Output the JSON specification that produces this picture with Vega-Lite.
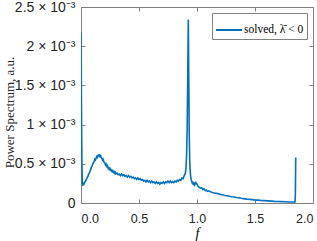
{
  "$schema": "https://vega.github.io/schema/vega-lite/v6.json",
  "width": 232,
  "height": 196,
  "autosize": {"type": "none"},
  "padding": {"left": 81, "top": 7, "right": 4, "bottom": 38},
  "background": "white",
  "config": {
    "view": {"stroke": null},
    "axis": {
      "grid": false,
      "domainColor": "#808080",
      "domainWidth": 1,
      "tickColor": "#808080",
      "tickSize": -4,
      "labelFont": "Liberation Sans",
      "labelFontSize": 12.5,
      "labelColor": "#262626",
      "labelFontWeight": "normal"
    },
    "legend": {
      "orient": "top-right",
      "offset": 6,
      "symbolType": "stroke",
      "symbolSize": 676,
      "symbolStrokeWidth": 2,
      "labelFont": "Liberation Serif",
      "labelFontSize": 11.5,
      "labelColor": "#000000",
      "labelOffset": 1,
      "strokeColor": "#808080",
      "fillColor": "white",
      "padding": 3,
      "titlePadding": 0
    }
  },
  "data": {
    "values": [
      {"f": 0.000, "power": 2.17e-3},
      {"f": 0.002, "power": 1.80e-3},
      {"f": 0.004, "power": 1.20e-3},
      {"f": 0.006, "power": 0.80e-3},
      {"f": 0.008, "power": 0.50e-3},
      {"f": 0.010, "power": 0.33e-3},
      {"f": 0.013, "power": 0.22e-3},
      {"f": 0.016, "power": 0.23e-3},
      {"f": 0.020, "power": 0.25e-3},
      {"f": 0.025, "power": 0.24e-3},
      {"f": 0.030, "power": 0.26e-3},
      {"f": 0.035, "power": 0.27e-3},
      {"f": 0.040, "power": 0.28e-3},
      {"f": 0.045, "power": 0.30e-3},
      {"f": 0.050, "power": 0.31e-3},
      {"f": 0.055, "power": 0.33e-3},
      {"f": 0.060, "power": 0.34e-3},
      {"f": 0.065, "power": 0.37e-3},
      {"f": 0.070, "power": 0.38e-3},
      {"f": 0.075, "power": 0.39e-3},
      {"f": 0.080, "power": 0.42e-3},
      {"f": 0.085, "power": 0.43e-3},
      {"f": 0.090, "power": 0.46e-3},
      {"f": 0.095, "power": 0.47e-3},
      {"f": 0.100, "power": 0.49e-3},
      {"f": 0.105, "power": 0.51e-3},
      {"f": 0.110, "power": 0.52e-3},
      {"f": 0.115, "power": 0.54e-3},
      {"f": 0.120, "power": 0.56e-3},
      {"f": 0.125, "power": 0.55e-3},
      {"f": 0.130, "power": 0.57e-3},
      {"f": 0.135, "power": 0.59e-3},
      {"f": 0.140, "power": 0.58e-3},
      {"f": 0.145, "power": 0.60e-3},
      {"f": 0.150, "power": 0.61e-3},
      {"f": 0.155, "power": 0.60e-3},
      {"f": 0.160, "power": 0.61e-3},
      {"f": 0.165, "power": 0.59e-3},
      {"f": 0.170, "power": 0.60e-3},
      {"f": 0.175, "power": 0.58e-3},
      {"f": 0.180, "power": 0.57e-3},
      {"f": 0.185, "power": 0.55e-3},
      {"f": 0.190, "power": 0.56e-3},
      {"f": 0.195, "power": 0.53e-3},
      {"f": 0.200, "power": 0.52e-3},
      {"f": 0.205, "power": 0.51e-3},
      {"f": 0.210, "power": 0.49e-3},
      {"f": 0.215, "power": 0.50e-3},
      {"f": 0.220, "power": 0.47e-3},
      {"f": 0.225, "power": 0.48e-3},
      {"f": 0.230, "power": 0.46e-3},
      {"f": 0.235, "power": 0.44e-3},
      {"f": 0.240, "power": 0.45e-3},
      {"f": 0.245, "power": 0.43e-3},
      {"f": 0.250, "power": 0.44e-3},
      {"f": 0.255, "power": 0.42e-3},
      {"f": 0.260, "power": 0.41e-3},
      {"f": 0.265, "power": 0.42e-3},
      {"f": 0.270, "power": 0.40e-3},
      {"f": 0.275, "power": 0.41e-3},
      {"f": 0.280, "power": 0.39e-3},
      {"f": 0.285, "power": 0.40e-3},
      {"f": 0.290, "power": 0.38e-3},
      {"f": 0.295, "power": 0.39e-3},
      {"f": 0.300, "power": 0.37e-3},
      {"f": 0.310, "power": 0.38e-3},
      {"f": 0.320, "power": 0.36e-3},
      {"f": 0.330, "power": 0.37e-3},
      {"f": 0.340, "power": 0.35e-3},
      {"f": 0.350, "power": 0.37e-3},
      {"f": 0.360, "power": 0.35e-3},
      {"f": 0.370, "power": 0.36e-3},
      {"f": 0.380, "power": 0.34e-3},
      {"f": 0.390, "power": 0.35e-3},
      {"f": 0.400, "power": 0.33e-3},
      {"f": 0.410, "power": 0.35e-3},
      {"f": 0.420, "power": 0.33e-3},
      {"f": 0.430, "power": 0.34e-3},
      {"f": 0.440, "power": 0.32e-3},
      {"f": 0.450, "power": 0.33e-3},
      {"f": 0.460, "power": 0.31e-3},
      {"f": 0.470, "power": 0.32e-3},
      {"f": 0.480, "power": 0.30e-3},
      {"f": 0.490, "power": 0.32e-3},
      {"f": 0.500, "power": 0.30e-3},
      {"f": 0.510, "power": 0.31e-3},
      {"f": 0.520, "power": 0.29e-3},
      {"f": 0.530, "power": 0.30e-3},
      {"f": 0.540, "power": 0.28e-3},
      {"f": 0.550, "power": 0.29e-3},
      {"f": 0.560, "power": 0.27e-3},
      {"f": 0.570, "power": 0.29e-3},
      {"f": 0.580, "power": 0.27e-3},
      {"f": 0.590, "power": 0.28e-3},
      {"f": 0.600, "power": 0.26e-3},
      {"f": 0.610, "power": 0.28e-3},
      {"f": 0.620, "power": 0.26e-3},
      {"f": 0.630, "power": 0.27e-3},
      {"f": 0.640, "power": 0.25e-3},
      {"f": 0.650, "power": 0.27e-3},
      {"f": 0.660, "power": 0.25e-3},
      {"f": 0.670, "power": 0.26e-3},
      {"f": 0.680, "power": 0.24e-3},
      {"f": 0.690, "power": 0.26e-3},
      {"f": 0.700, "power": 0.25e-3},
      {"f": 0.710, "power": 0.27e-3},
      {"f": 0.720, "power": 0.25e-3},
      {"f": 0.730, "power": 0.27e-3},
      {"f": 0.740, "power": 0.26e-3},
      {"f": 0.750, "power": 0.28e-3},
      {"f": 0.760, "power": 0.26e-3},
      {"f": 0.770, "power": 0.28e-3},
      {"f": 0.780, "power": 0.26e-3},
      {"f": 0.790, "power": 0.27e-3},
      {"f": 0.800, "power": 0.26e-3},
      {"f": 0.810, "power": 0.28e-3},
      {"f": 0.820, "power": 0.27e-3},
      {"f": 0.830, "power": 0.29e-3},
      {"f": 0.840, "power": 0.28e-3},
      {"f": 0.850, "power": 0.30e-3},
      {"f": 0.860, "power": 0.29e-3},
      {"f": 0.870, "power": 0.32e-3},
      {"f": 0.880, "power": 0.31e-3},
      {"f": 0.890, "power": 0.35e-3},
      {"f": 0.900, "power": 0.38e-3},
      {"f": 0.905, "power": 0.45e-3},
      {"f": 0.910, "power": 0.60e-3},
      {"f": 0.915, "power": 0.95e-3},
      {"f": 0.920, "power": 1.60e-3},
      {"f": 0.925, "power": 2.34e-3},
      {"f": 0.929, "power": 1.60e-3},
      {"f": 0.933, "power": 0.90e-3},
      {"f": 0.937, "power": 0.55e-3},
      {"f": 0.941, "power": 0.42e-3},
      {"f": 0.945, "power": 0.34e-3},
      {"f": 0.950, "power": 0.30e-3},
      {"f": 0.955, "power": 0.27e-3},
      {"f": 0.960, "power": 0.25e-3},
      {"f": 0.965, "power": 0.26e-3},
      {"f": 0.970, "power": 0.24e-3},
      {"f": 0.975, "power": 0.25e-3},
      {"f": 0.980, "power": 0.23e-3},
      {"f": 0.990, "power": 0.26e-3},
      {"f": 1.000, "power": 0.24e-3},
      {"f": 1.010, "power": 0.21e-3},
      {"f": 1.020, "power": 0.20e-3},
      {"f": 1.030, "power": 0.19e-3},
      {"f": 1.040, "power": 0.195e-3},
      {"f": 1.050, "power": 0.17e-3},
      {"f": 1.060, "power": 0.18e-3},
      {"f": 1.070, "power": 0.16e-3},
      {"f": 1.080, "power": 0.165e-3},
      {"f": 1.090, "power": 0.15e-3},
      {"f": 1.100, "power": 0.155e-3},
      {"f": 1.120, "power": 0.14e-3},
      {"f": 1.140, "power": 0.13e-3},
      {"f": 1.160, "power": 0.125e-3},
      {"f": 1.180, "power": 0.12e-3},
      {"f": 1.200, "power": 0.11e-3},
      {"f": 1.220, "power": 0.105e-3},
      {"f": 1.240, "power": 0.095e-3},
      {"f": 1.260, "power": 0.092e-3},
      {"f": 1.280, "power": 0.085e-3},
      {"f": 1.300, "power": 0.08e-3},
      {"f": 1.320, "power": 0.076e-3},
      {"f": 1.340, "power": 0.07e-3},
      {"f": 1.360, "power": 0.066e-3},
      {"f": 1.380, "power": 0.06e-3},
      {"f": 1.400, "power": 0.056e-3},
      {"f": 1.430, "power": 0.05e-3},
      {"f": 1.460, "power": 0.046e-3},
      {"f": 1.490, "power": 0.04e-3},
      {"f": 1.520, "power": 0.037e-3},
      {"f": 1.550, "power": 0.033e-3},
      {"f": 1.580, "power": 0.03e-3},
      {"f": 1.610, "power": 0.027e-3},
      {"f": 1.640, "power": 0.024e-3},
      {"f": 1.670, "power": 0.021e-3},
      {"f": 1.700, "power": 0.019e-3},
      {"f": 1.730, "power": 0.017e-3},
      {"f": 1.760, "power": 0.015e-3},
      {"f": 1.790, "power": 0.013e-3},
      {"f": 1.820, "power": 0.012e-3},
      {"f": 1.845, "power": 0.012e-3},
      {"f": 1.848, "power": 0.10e-3},
      {"f": 1.851, "power": 0.58e-3}
    ]
  },
  "layer": [
    {
      "mark": {"type": "line", "strokeWidth": 1.6, "clip": true},
      "encoding": {
        "x": {
          "field": "f", "type": "quantitative",
          "scale": {"domain": [0, 2], "nice": false},
          "axis": {
            "orient": "bottom",
            "values": [0, 0.5, 1, 1.5, 2],
            "labelPadding": 13,
            "title": "f",
            "titleFont": "Liberation Serif",
            "titleFontStyle": "italic",
            "titleFontWeight": "normal",
            "titleFontSize": 14,
            "titleColor": "#000000",
            "titleBaseline": "alphabetic",
            "titleY": 34
          }
        },
        "y": {
          "field": "power", "type": "quantitative",
          "scale": {"domain": [0, 0.0025], "nice": false},
          "axis": {
            "orient": "left",
            "values": [0, 0.0005, 0.001, 0.0015, 0.002, 0.0025],
            "labelExpr": "datum.value == 0 ? '0' : format(datum.value * 1000, '~g') + ' × 10⁻³'",
            "labelFontSize": 14,
            "labelPadding": 10,
            "labelDy": 1,
            "title": "Power Spectrum, a.u.",
            "titleFont": "Liberation Serif",
            "titleFontWeight": "normal",
            "titleFontSize": 13,
            "titleColor": "#262626",
            "titleAngle": -90,
            "titleAlign": "center",
            "titleBaseline": "alphabetic",
            "titleX": -68,
            "titleY": 105
          }
        },
        "color": {
          "datum": "solved, λ̄ < 0",
          "scale": {"range": ["#0072BD"]},
          "legend": {"title": null}
        }
      }
    },
    {
      "mark": {"type": "line", "opacity": 0},
      "encoding": {
        "x": {
          "field": "f", "type": "quantitative",
          "axis": {"orient": "top", "values": [0, 0.5, 1, 1.5, 2], "labels": false, "title": null}
        },
        "y": {
          "field": "power", "type": "quantitative",
          "axis": {"orient": "right", "values": [0, 0.0005, 0.001, 0.0015, 0.002, 0.0025], "labels": false, "title": null}
        }
      }
    }
  ],
  "resolve": {"axis": {"x": "independent", "y": "independent"}}
}
